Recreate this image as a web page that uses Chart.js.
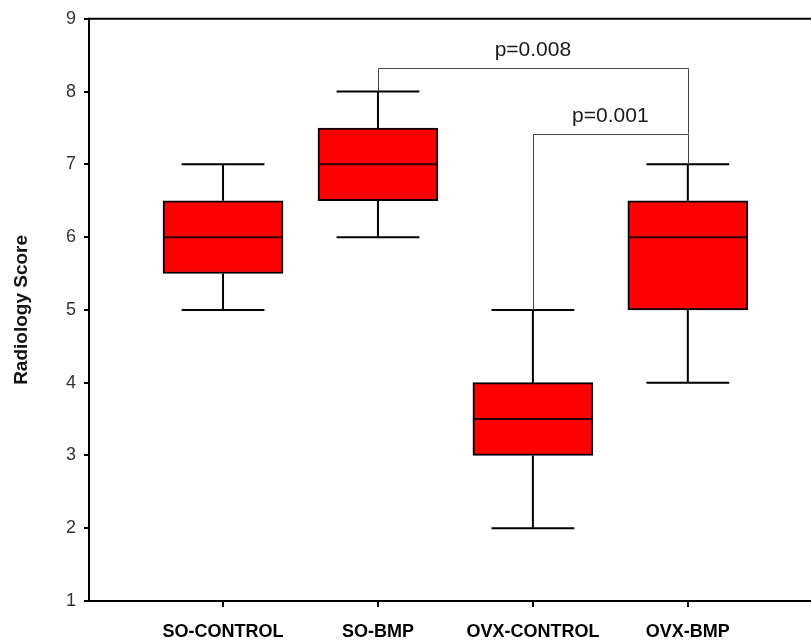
<!DOCTYPE html>
<html>
<head>
<meta charset="utf-8">
<script src="https://cdn.jsdelivr.net/npm/chart.js@4/dist/chart.umd.min.js"></script>
<style>
  html, body { margin: 0; padding: 0; background: #fff; }
</style>
</head>
<body>
<canvas id="boxChart" width="811" height="644"></canvas>
<script>
// groups and box plot statistics
var categories = ['SO-CONTROL', 'SO-BMP', 'OVX-CONTROL', 'OVX-BMP'];
var whiskerLow = [5, 6, 2, 4];
var quartile1 = [5.5, 6.5, 3, 5];
var medians = [6, 7, 3.5, 6];
var quartile3 = [6.5, 7.5, 4, 6.5];
var whiskerHigh = [7, 8, 5, 7];

// significance brackets
var pLabels = ['p=0.008', 'p=0.001'];
var pFrom = [2, 3];
var pTo = [4, 4];
var pBarY = [8.33, 7.42];
var pFromEnd = [8.0, 5.0];
var pToEnd = [7.42, 7.0];
var pLabelX = [3.0, 3.5];
var pLabelY = [8.57, 7.66];

var boxExtras = {
    id: 'boxExtras',
    afterDatasetsDraw: function(chart) {
        var ctx = chart.ctx;
        var xs = chart.scales.x;
        var ys = chart.scales.y;
        var meta = chart.getDatasetMeta(0);
        var area = chart.chartArea;
        ctx.save();

        // top frame line
        ctx.strokeStyle = '#000';
        ctx.lineWidth = 2;
        ctx.beginPath();
        ctx.moveTo(area.left - 1, area.top);
        ctx.lineTo(area.right, area.top);
        ctx.stroke();

        categories.forEach(function(c, i) {
            var x = xs.getPixelForValue(i + 1);
            var half = meta.data[i].width / 2;
            var cap = half * 0.69;
            ctx.strokeStyle = '#000';
            ctx.lineWidth = 2;
            ctx.beginPath();
            // upper whisker + cap
            ctx.moveTo(x, ys.getPixelForValue(quartile3[i]));
            ctx.lineTo(x, ys.getPixelForValue(whiskerHigh[i]));
            ctx.moveTo(x - cap, ys.getPixelForValue(whiskerHigh[i]));
            ctx.lineTo(x + cap, ys.getPixelForValue(whiskerHigh[i]));
            // lower whisker + cap
            ctx.moveTo(x, ys.getPixelForValue(quartile1[i]));
            ctx.lineTo(x, ys.getPixelForValue(whiskerLow[i]));
            ctx.moveTo(x - cap, ys.getPixelForValue(whiskerLow[i]));
            ctx.lineTo(x + cap, ys.getPixelForValue(whiskerLow[i]));
            ctx.stroke();
            // median
            ctx.strokeStyle = '#2a0000';
            ctx.beginPath();
            ctx.moveTo(x - half, ys.getPixelForValue(medians[i]));
            ctx.lineTo(x + half, ys.getPixelForValue(medians[i]));
            ctx.stroke();
        });

        // p value brackets
        ctx.strokeStyle = '#444';
        ctx.lineWidth = 1;
        ctx.fillStyle = '#1a1a1a';
        ctx.font = '21px "Liberation Sans", Arial, sans-serif';
        ctx.textAlign = 'center';
        ctx.textBaseline = 'middle';
        pLabels.forEach(function(lbl, k) {
            var x1 = Math.round(xs.getPixelForValue(pFrom[k])) + 0.5;
            var x2 = Math.round(xs.getPixelForValue(pTo[k])) + 0.5;
            var yb = Math.round(ys.getPixelForValue(pBarY[k])) + 0.5;
            ctx.beginPath();
            ctx.moveTo(x1, ys.getPixelForValue(pFromEnd[k]));
            ctx.lineTo(x1, yb);
            ctx.lineTo(x2, yb);
            ctx.lineTo(x2, ys.getPixelForValue(pToEnd[k]));
            ctx.stroke();
            ctx.fillText(lbl, xs.getPixelForValue(pLabelX[k]), ys.getPixelForValue(pLabelY[k]));
        });
        ctx.restore();
    }
};

var boxData = categories.map(function(c, i) {
    return { x: i + 1, y: [quartile1[i], quartile3[i]] };
});

var boxChart = new Chart(document.getElementById('boxChart'), {
    type: 'bar',
    data: {
        datasets: [{
            label: 'Radiology Score',
            data: boxData,
            backgroundColor: '#ff0000',
            borderColor: '#000',
            borderWidth: 2,
            borderSkipped: false,
            barThickness: 120
        }]
    },
    options: {
        responsive: false,
        animation: false,
        devicePixelRatio: 1,
        layout: { padding: { top: 10, right: 0, bottom: 0, left: 0 } },
        plugins: {
            legend: { display: false },
            tooltip: { enabled: false }
        },
        scales: {
            x: {
                type: 'linear',
                min: 0.135,
                max: 4.795,
                offset: false,
                afterBuildTicks: function(scale) {
                    scale.ticks = categories.map(function(c, i) { return { value: i + 1 }; });
                },
                afterFit: function(scale) { scale.height = 43; },
                grid: { offset: false, drawOnChartArea: false, drawTicks: true, tickLength: 6, color: '#000', lineWidth: 2 },
                border: { color: '#000', width: 2 },
                ticks: {
                    autoSkip: false,
                    maxRotation: 0,
                    padding: 14,
                    color: '#000',
                    font: { family: '"Liberation Sans", Arial, sans-serif', size: 18, weight: 'bold' },
                    callback: function(v) { return categories[v - 1]; }
                }
            },
            y: {
                min: 1,
                max: 9,
                afterFit: function(scale) { scale.width = 89; },
                grid: { drawOnChartArea: false, drawTicks: true, tickLength: 5, color: '#000', lineWidth: 2 },
                border: { color: '#000', width: 2 },
                ticks: {
                    stepSize: 1,
                    padding: 8,
                    color: '#333',
                    font: { family: '"Liberation Sans", Arial, sans-serif', size: 18 }
                },
                title: {
                    display: true,
                    text: 'Radiology Score',
                    color: '#111',
                    padding: { top: 10, bottom: 0 },
                    font: { family: '"Liberation Sans", Arial, sans-serif', size: 19, weight: 'bold' }
                }
            }
        }
    },
    plugins: [boxExtras]
});
</script>
</body>
</html>
